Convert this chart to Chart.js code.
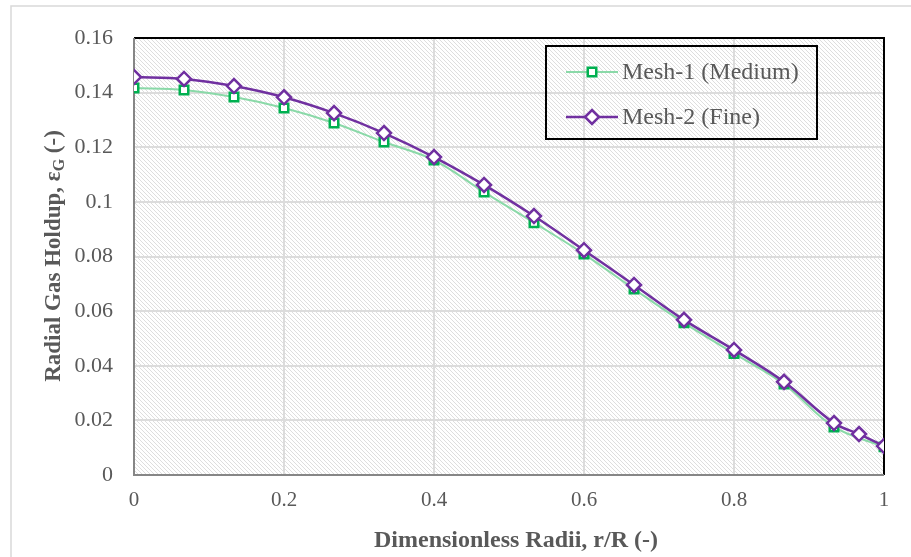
<!DOCTYPE html>
<html>
<head>
<meta charset="utf-8">
<script src="https://cdn.jsdelivr.net/npm/chart.js@4.4.1/dist/chart.umd.min.js"></script>
<style>
  html, body { margin: 0; padding: 0; background: #fff; }
  #wrap { width: 911px; height: 557px; position: relative; }
</style>
</head>
<body>
<div id="wrap"><canvas id="holdupChart" width="911" height="557"></canvas></div>
<script>
// values
const mesh1Radii = [0, 0.0667, 0.1333, 0.2, 0.2667, 0.3333, 0.4, 0.4667, 0.5333, 0.6, 0.6667, 0.7333, 0.8, 0.8667, 0.9333, 1.0];
const mesh1Holdup = [0.1417, 0.1410, 0.1384, 0.1344, 0.1289, 0.1219, 0.1153, 0.1036, 0.0924, 0.0809, 0.0681, 0.0557, 0.0445, 0.0333, 0.0176, 0.0103];

const mesh2Radii = [0, 0.0667, 0.1333, 0.2, 0.2667, 0.3333, 0.4, 0.4667, 0.5333, 0.6, 0.6667, 0.7333, 0.8, 0.8667, 0.9333, 0.9667, 1.0];
const mesh2Holdup = [0.1457, 0.1450, 0.1424, 0.1383, 0.1325, 0.1252, 0.1164, 0.1062, 0.0948, 0.0823, 0.0696, 0.0568, 0.0458, 0.0341, 0.0190, 0.0150, 0.0106];

const seriesNames = ['Mesh-1 (Medium)', 'Mesh-2 (Fine)'];
const xTitle = 'Dimensionless Radii, r/R (-)';
const yTitleParts = ['Radial Gas Holdup, ε', 'G', ' (-)'];

const SERIF = '"Liberation Serif", "Times New Roman", serif';
const TEXT_GREY = '#595959';

const toPts = (xs, ys) => xs.map((x, i) => ({ x: x, y: ys[i] }));

function makeHatch() {
    const c = document.createElement('canvas');
    c.width = 4; c.height = 4;
    const g = c.getContext('2d');
    g.fillStyle = '#ffffff';
    g.fillRect(0, 0, 4, 4);
    g.fillStyle = '#dedede';
    for (let i = 0; i < 4; i++) g.fillRect(i, i, 1, 1);
    return g.createPattern(c, 'repeat');
}

const frame = {
    id: 'frame',
    beforeDraw(chart) {
        const { ctx, chartArea: a } = chart;
        ctx.save();
        ctx.fillStyle = '#fff';
        ctx.fillRect(0, 0, chart.width, chart.height);
        // outer chart border (left and top visible)
        ctx.strokeStyle = '#d9d9d9';
        ctx.lineWidth = 1.5;
        ctx.beginPath();
        ctx.moveTo(11, chart.height);
        ctx.lineTo(11, 6);
        ctx.lineTo(chart.width, 6);
        ctx.stroke();
        ctx.fillStyle = makeHatch();
        ctx.fillRect(a.left, a.top, a.right - a.left, a.bottom - a.top);
        ctx.restore();
    },
    beforeDatasetsDraw(chart) {
        const { ctx, chartArea: a } = chart;
        ctx.save();
        ctx.lineWidth = 2;
        ctx.strokeStyle = '#000';
        ctx.beginPath();
        ctx.moveTo(a.left, a.top);
        ctx.lineTo(a.right, a.top);
        ctx.lineTo(a.right, a.bottom);
        ctx.stroke();
        ctx.strokeStyle = '#868686';
        ctx.beginPath();
        ctx.moveTo(a.left, a.top);
        ctx.lineTo(a.left, a.bottom);
        ctx.lineTo(a.right, a.bottom);
        ctx.stroke();
        // legend box
        ctx.strokeStyle = '#000';
        ctx.strokeRect(546, 46, 271, 93);
        ctx.restore();
    },
    afterDraw(chart) {
        const { ctx } = chart;
        ctx.save();
        ctx.fillStyle = TEXT_GREY;
        ctx.textBaseline = 'middle';

        // legend entries
        const rows = [72, 117];
        chart.data.datasets.forEach((ds, i) => {
            const y = rows[i];
            ctx.strokeStyle = ds.borderColor;
            ctx.lineWidth = ds.borderWidth;
            ctx.beginPath();
            ctx.moveTo(566, y);
            ctx.lineTo(618, y);
            ctx.stroke();
            ctx.fillStyle = '#fff';
            ctx.strokeStyle = ds.pointBorderColor;
            ctx.lineWidth = ds.pointBorderWidth;
            Chart.helpers.drawPoint(ctx, { pointStyle: ds.pointStyle, radius: ds.pointRadius, borderWidth: ds.pointBorderWidth }, 592, y);
            ctx.fillStyle = TEXT_GREY;
            ctx.font = '24px ' + SERIF;
            ctx.textAlign = 'left';
            ctx.fillText(ds.label, 622, y + 1);
        });

        // x axis title
        ctx.font = 'bold 24px ' + SERIF;
        ctx.textAlign = 'center';
        ctx.fillText(xTitle, 516, 541);

        // y axis title with subscript
        ctx.translate(54, 256);
        ctx.rotate(-Math.PI / 2);
        const big = 'bold 23px ' + SERIF, small = 'bold 16px ' + SERIF;
        ctx.font = big;
        const w0 = ctx.measureText(yTitleParts[0]).width;
        const w2 = ctx.measureText(yTitleParts[2]).width;
        ctx.font = small;
        const w1 = ctx.measureText(yTitleParts[1]).width;
        let x = -(w0 + w1 + w2) / 2;
        ctx.textAlign = 'left';
        ctx.font = big;
        ctx.fillText(yTitleParts[0], x, 0);
        x += w0;
        ctx.font = small;
        ctx.fillText(yTitleParts[1], x, 6);
        x += w1;
        ctx.font = big;
        ctx.fillText(yTitleParts[2], x, 0);
        ctx.restore();
    }
};

const ctx = document.getElementById('holdupChart').getContext('2d');
const holdupChart = new Chart(ctx, {
    type: 'scatter',
    data: {
        datasets: [{
            label: seriesNames[0],
            data: toPts(mesh1Radii, mesh1Holdup),
            showLine: true,
            borderColor: '#8ad9a8',
            borderWidth: 2,
            tension: 0.35,
            pointStyle: 'rect',
            pointRadius: 6,
            pointBorderWidth: 2.5,
            pointBorderColor: '#00b050',
            pointBackgroundColor: '#fff',
            order: 2
        }, {
            label: seriesNames[1],
            data: toPts(mesh2Radii, mesh2Holdup),
            showLine: true,
            borderColor: '#7030a0',
            borderWidth: 2.5,
            tension: 0.35,
            pointStyle: 'rectRot',
            pointRadius: 7,
            pointBorderWidth: 2.5,
            pointBorderColor: '#7030a0',
            pointBackgroundColor: '#fff',
            order: 1
        }]
    },
    options: {
        responsive: false,
        animation: false,
        devicePixelRatio: 1,
        layout: { padding: { left: 0, top: 38, right: 27, bottom: 0 } },
        plugins: {
            legend: { display: false },
            tooltip: { enabled: false }
        },
        scales: {
            x: {
                type: 'linear',
                min: 0, max: 1,
                border: { display: false },
                grid: { color: '#dcdcdc', lineWidth: 2, drawTicks: false },
                ticks: {
                    stepSize: 0.2,
                    padding: 13,
                    color: TEXT_GREY,
                    font: { family: SERIF, size: 21 },
                    callback: v => String(+v.toFixed(2))
                },
                afterFit: s => { s.height = 82; }
            },
            y: {
                min: 0, max: 0.16,
                border: { display: false },
                grid: { color: '#dcdcdc', lineWidth: 2, drawTicks: false },
                ticks: {
                    stepSize: 0.02,
                    padding: 21,
                    color: TEXT_GREY,
                    font: { family: SERIF, size: 22 },
                    callback: v => String(+v.toFixed(2))
                },
                afterFit: s => { s.height; s.width = 134; }
            }
        }
    },
    plugins: [frame]
});
</script>
</body>
</html>
